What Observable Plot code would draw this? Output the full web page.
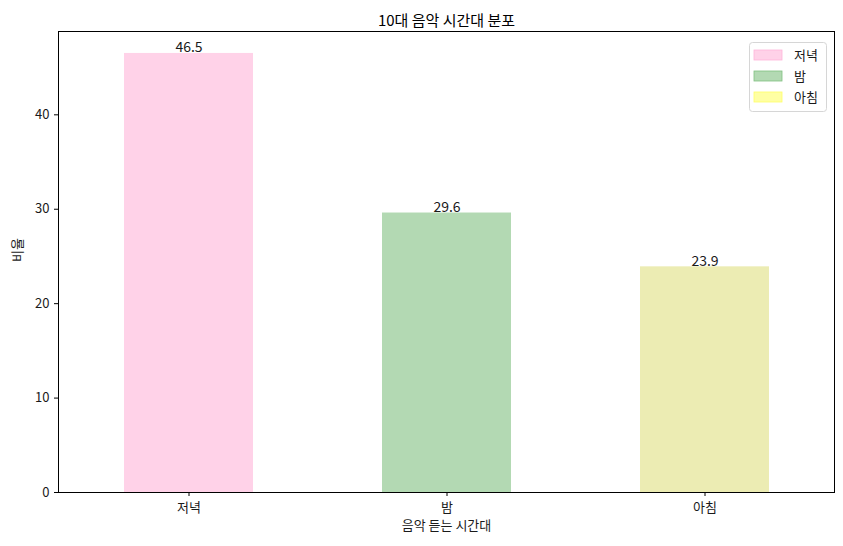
<!DOCTYPE html>
<html>
<head>
<meta charset="utf-8">
<script src="https://cdn.jsdelivr.net/npm/d3@7"></script>
<script src="https://cdn.jsdelivr.net/npm/@observablehq/plot@0.6"></script>
<style>
  html, body { margin: 0; padding: 0; background: #fff; }
  #chart svg { display: block; }
</style>
</head>
<body>
<div id="chart"></div>
<script>
const categories = ["저녁", "밤", "아침"];
const values = [46.5, 29.6, 23.9];
const barColors = ["#ffd2e8", "#b3d9b3", "#ececb3"];
const legendColors = ["#ffd2e8", "#b3d9b3", "#ffffa3"];
const legendEdges = ["#ffb4d9", "#80c080", "#ffff66"];
const yTicks = [0, 10, 20, 30, 40];
const titleText = "10대 음악 시간대 분포";
const xLabel = "음악 듣는 시간대";
const yLabel = "비율";

const data = categories.map((c, i) => ({cat: c, value: values[i], color: barColors[i]}));
const FONT = "'Noto Sans CJK KR', 'Noto Sans', sans-serif";

const plot = Plot.plot({
  width: 843,
  height: 546,
  marginLeft: 58,
  marginRight: 9,
  marginTop: 31,
  marginBottom: 54,
  style: {fontFamily: FONT, fontSize: "12px", color: "#000", background: "#fff"},
  x: {type: "band", domain: categories, paddingInner: 0.5, paddingOuter: 0.25, label: null},
  y: {domain: [0, 48.825], ticks: yTicks, label: null},
  marks: [
    Plot.barY(data, {x: "cat", y: "value", fill: "color"}),
    Plot.frame({stroke: "#000", strokeWidth: 1}),
    Plot.axisX({tickSize: 4, tickPadding: 6, fontSize: 13, label: null, fill: "#1a1a1a"}),
    Plot.axisY({ticks: yTicks, tickSize: 4, tickPadding: 5, fontSize: 13, label: null, fill: "#1a1a1a", tickFormat: d => String(d)}),
    Plot.text(data, {x: "cat", y: "value", text: d => d.value.toFixed(1), lineAnchor: "bottom", dy: -1, fontSize: 14, fill: "#1a1a1a"}),
    Plot.text([titleText], {text: d => d, frameAnchor: "top", dy: -16, fontSize: 15, fill: "#000"}),
    Plot.text([xLabel], {text: d => d, frameAnchor: "bottom", dy: 37, fontSize: 13, fill: "#1a1a1a"}),
    Plot.text([yLabel], {text: d => d, frameAnchor: "left", dx: -41, rotate: -90, fontSize: 13, fill: "#1a1a1a"})
  ]
});

document.getElementById("chart").appendChild(plot);

// legend (upper right inside the axes)
const svg = d3.select(plot);
const lg = svg.append("g").attr("transform", "translate(749,42)")
  .attr("font-family", FONT).attr("text-anchor", "start");
lg.append("rect").attr("x", 0.5).attr("y", 0.5).attr("width", 77).attr("height", 69)
  .attr("rx", 3).attr("fill", "#fff").attr("fill-opacity", 0.8).attr("stroke", "#d6d6d6");
categories.forEach((c, i) => {
  const cy = 13 + i * 21;
  lg.append("rect").attr("x", 5).attr("y", cy - 5).attr("width", 28).attr("height", 10)
    .attr("fill", legendColors[i]).attr("stroke", legendEdges[i]).attr("stroke-width", 0.8);
  lg.append("text").attr("x", 45).attr("y", cy).attr("dy", "0.35em")
    .attr("font-size", 13).attr("fill", "#1a1a1a").attr("text-anchor", "start").text(c);
});
</script>
</body>
</html>
